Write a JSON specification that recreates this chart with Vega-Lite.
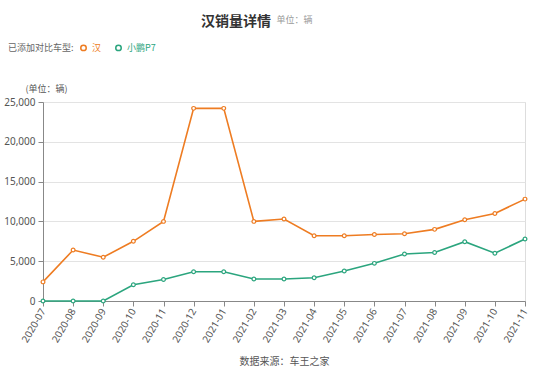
{
  "$schema": "https://vega.github.io/schema/vega-lite/v6.json",
  "width": 482,
  "height": 199,
  "autosize": {"type": "none"},
  "padding": {"left": 43, "top": 102, "right": 23, "bottom": 77},
  "background": "white",
  "title": {
    "text": "汉销量详情",
    "subtitle": "\u200b\u3000\u3000\u3000\u3000\u3000\u3000\u3000\u3000\u3000\u3000\u3000\u3000\u3000单位：辆",
    "anchor": "middle",
    "font": "Noto Sans CJK SC",
    "fontSize": 14,
    "fontWeight": "bold",
    "color": "#333333",
    "subtitleFont": "Noto Sans CJK SC",
    "subtitleFontSize": 9,
    "subtitleColor": "#999999",
    "subtitlePadding": -13,
    "offset": 14,
    "dx": -48
  },
  "data": {
    "values": [
      {"month": "2020-07", "series": "汉", "sales": 2400},
      {"month": "2020-08", "series": "汉", "sales": 6400},
      {"month": "2020-09", "series": "汉", "sales": 5500},
      {"month": "2020-10", "series": "汉", "sales": 7500},
      {"month": "2020-11", "series": "汉", "sales": 10000},
      {"month": "2020-12", "series": "汉", "sales": 24200},
      {"month": "2021-01", "series": "汉", "sales": 24200},
      {"month": "2021-02", "series": "汉", "sales": 10000},
      {"month": "2021-03", "series": "汉", "sales": 10300},
      {"month": "2021-04", "series": "汉", "sales": 8200},
      {"month": "2021-05", "series": "汉", "sales": 8200},
      {"month": "2021-06", "series": "汉", "sales": 8350},
      {"month": "2021-07", "series": "汉", "sales": 8450},
      {"month": "2021-08", "series": "汉", "sales": 9000},
      {"month": "2021-09", "series": "汉", "sales": 10200},
      {"month": "2021-10", "series": "汉", "sales": 11000},
      {"month": "2021-11", "series": "汉", "sales": 12800},
      {"month": "2020-07", "series": "小鹏P7", "sales": 0},
      {"month": "2020-08", "series": "小鹏P7", "sales": 0},
      {"month": "2020-09", "series": "小鹏P7", "sales": 0},
      {"month": "2020-10", "series": "小鹏P7", "sales": 2050},
      {"month": "2020-11", "series": "小鹏P7", "sales": 2700},
      {"month": "2020-12", "series": "小鹏P7", "sales": 3680},
      {"month": "2021-01", "series": "小鹏P7", "sales": 3680},
      {"month": "2021-02", "series": "小鹏P7", "sales": 2760},
      {"month": "2021-03", "series": "小鹏P7", "sales": 2760},
      {"month": "2021-04", "series": "小鹏P7", "sales": 2930},
      {"month": "2021-05", "series": "小鹏P7", "sales": 3770},
      {"month": "2021-06", "series": "小鹏P7", "sales": 4730},
      {"month": "2021-07", "series": "小鹏P7", "sales": 5900},
      {"month": "2021-08", "series": "小鹏P7", "sales": 6100},
      {"month": "2021-09", "series": "小鹏P7", "sales": 7450},
      {"month": "2021-10", "series": "小鹏P7", "sales": 6000},
      {"month": "2021-11", "series": "小鹏P7", "sales": 7800}
    ]
  },
  "encoding": {
    "x": {
      "field": "month",
      "type": "ordinal",
      "scale": {"type": "point", "padding": 0},
      "axis": {
        "title": "数据来源：车王之家",
        "titleFont": "Noto Sans CJK SC",
        "titleFontSize": 10,
        "titleFontWeight": "normal",
        "titleColor": "#555555",
        "titlePadding": 12,
        "labelAngle": -60,
        "labelAlign": "right",
        "labelBaseline": "middle",
        "labelFont": "Noto Sans",
        "labelFontSize": 10,
        "labelColor": "#555555",
        "labelPadding": 3,
        "domainColor": "#888888",
        "tickColor": "#888888",
        "tickSize": 5,
        "grid": false
      }
    },
    "y": {
      "field": "sales",
      "type": "quantitative",
      "scale": {"domain": [0, 25000]},
      "axis": {
        "values": [0, 5000, 10000, 15000, 20000, 25000],
        "format": ",.0f",
        "title": "(单位：辆)",
        "titleFont": "Noto Sans CJK SC",
        "titleFontSize": 9,
        "titleFontWeight": "normal",
        "titleColor": "#555555",
        "titleAngle": 0,
        "titleAlign": "left",
        "titleBaseline": "middle",
        "titleX": -18,
        "titleY": -14,
        "labelFont": "Noto Sans",
        "labelFontSize": 10,
        "labelColor": "#555555",
        "labelPadding": 3,
        "domainColor": "#888888",
        "tickColor": "#888888",
        "tickSize": 5,
        "gridColor": "#e3e3e3"
      }
    },
    "color": {
      "field": "series",
      "type": "nominal",
      "scale": {"domain": ["汉", "小鹏P7"], "range": ["#ee7c22", "#2ba57e"]},
      "legend": {
        "title": "已添加对比车型:",
        "orient": "none",
        "legendX": -35,
        "legendY": -59,
        "direction": "horizontal",
        "titleOrient": "left",
        "titleFont": "Noto Sans CJK SC",
        "titleFontSize": 9,
        "titleFontWeight": "normal",
        "titleColor": "#666666",
        "labelFont": "Noto Sans CJK SC",
        "labelFontSize": 9,
        "symbolType": "circle",
        "symbolSize": 30,
        "symbolFillColor": "white",
        "columnPadding": 10,
        "encode": {
          "labels": {"update": {"fill": {"signal": "datum.value === '汉' ? '#ee7c22' : '#2ba57e'"}}}
        }
      }
    }
  },
  "layer": [
    {"mark": {"type": "line", "strokeWidth": 1.6}},
    {"mark": {"type": "point", "filled": false, "fill": "white", "size": 14, "strokeWidth": 1.2, "opacity": 1}}
  ]
}
